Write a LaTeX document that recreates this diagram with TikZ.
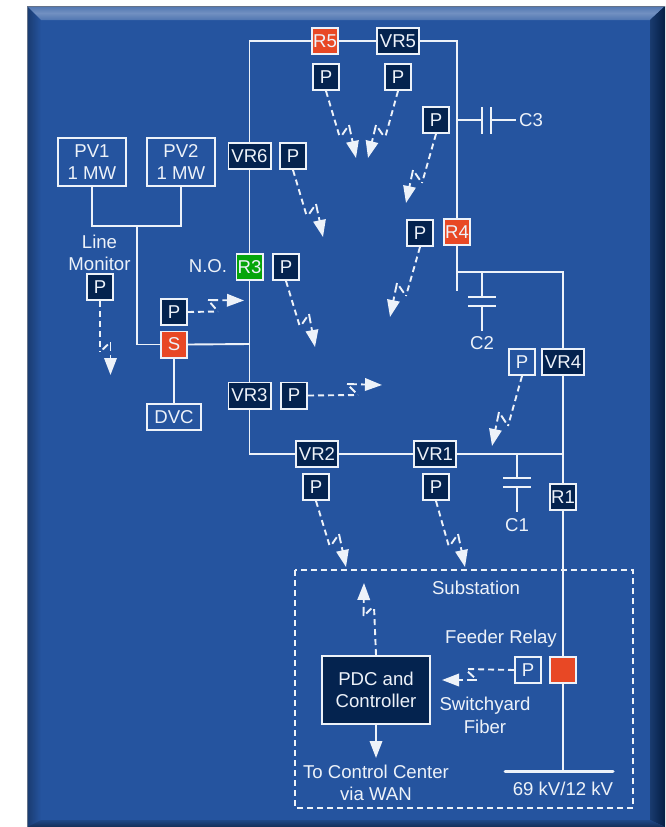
\documentclass[tikz,border=0pt]{standalone}
\usepackage{fontspec}
\setmainfont{Liberation Sans}
\usetikzlibrary{arrows.meta,calc}
\definecolor{panel}{HTML}{25549F}
\definecolor{navy}{HTML}{04234F}
\definecolor{relayred}{HTML}{E84825}
\definecolor{relaygreen}{HTML}{05A50A}
\definecolor{ink}{HTML}{EDF2F9}
\tikzset{
  lbl/.style={text=ink,inner sep=0pt,align=center,font=\fontsize{18.6}{22.5}\selectfont},
  cell/.style={draw=ink,line width=1.9pt,text=ink,inner sep=0pt,minimum height=26.1pt,font=\fontsize{18.6}{22.5}\selectfont,align=center},
  pbox/.style={cell,fill=navy,minimum width=26.1pt},
  popen/.style={cell,minimum width=26.1pt},
  vrbox/.style={cell,fill=navy,minimum width=42.1pt},
  redbox/.style={cell,fill=relayred,minimum width=26.1pt},
  pvbox/.style={cell,minimum width=68.1pt,minimum height=48.1pt},
  wire/.style={draw=ink,line width=1.9pt},
  fibdash/.style={draw=ink,line width=1.9pt,dash pattern=on 6pt off 4pt},
  headed/.style={draw=ink,line width=1.9pt,-{Triangle[length=17pt,width=12.5pt]}},
}
% start, end of the long run, top of the jog, tip
\newcommand{\fiblink}[4]{%
  \draw[fibdash] (#1) -- (#2);
  \draw[wire] ($(#2)!0.25!(#3)$) -- ($(#2)!0.75!(#3)$);
  \draw[wire] (#3) -- ($(#3)!0.28!(#4)$);
  \draw[headed] ($(#3)!0.4!(#4)$) -- (#4);
}
\begin{document}
\begin{tikzpicture}[x=1pt,y=-1pt]
\useasboundingbox (0,0) rectangle (665,827);
\fill[white] (0,0) rectangle (665,827);
% panel with bevel
\fill[panel] (27,6) rectangle (665,827);
\shade[left color=panel!70!black,right color=panel] (27,6) -- (41,20) -- (41,820) -- (27,827) -- cycle;
\shade[top color=panel!80!white,bottom color=panel!80!white,middle color=panel!65!white] (27,6) -- (665,6) -- (650,20) -- (41,20) -- cycle;
\shade[left color=panel!70!black,right color=navy!85!black] (650,20) -- (665,6) -- (665,827) -- (650,820) -- cycle;
\shade[top color=panel!85!black,bottom color=panel!55!black] (41,820) -- (650,820) -- (665,827) -- (27,827) -- cycle;
\draw[gray!70!panel,line width=1pt] (27,827) -- (27,6) -- (665,6);
% nodes
\node[redbox] (r5) at (325,41) {R5};
\node[vrbox] (vr5) at (398,41) {VR5};
\node[pbox] (p5a) at (326,77) {P};
\node[pbox] (p5b) at (398,77) {P};
\node[pbox] (pc3) at (436,120) {P};
\node[redbox] (r4) at (457,232) {R4};
\node[pbox] (pr4) at (420,233) {P};
\node[vrbox] (vr6) at (249.5,156) {VR6};
\node[pbox] (pvr6) at (293,156) {P};
\node[pvbox] (pv1) at (92,162) {PV1\\1 MW};
\node[pvbox] (pv2) at (181,162) {PV2\\1 MW};
\node[lbl] (lm) at (99.5,253) {Line\\Monitor};
\node[pbox] (plm) at (100,287) {P};
\node[redbox] (s) at (174,344.5) {S};
\node[pbox] (ps) at (174,312) {P};
\node[cell,fill=relaygreen,minimum width=26.1pt] (r3) at (249.5,267) {R3};
\node[pbox] (pr3) at (286,267) {P};
\node[lbl] (no) at (208,266) {N.O.};
\node[vrbox] (vr3) at (249.5,395.5) {VR3};
\node[pbox] (pvr3) at (294,395.5) {P};
\node[cell,minimum width=54.1pt] (dvc) at (174,417) {DVC};
\node[vrbox] (vr2) at (317,454) {VR2};
\node[vrbox] (vr1) at (435,454) {VR1};
\node[pbox] (pvr2) at (316,487) {P};
\node[pbox] (pvr1) at (436,487) {P};
\node[pbox] (r1) at (563,497) {R1};
\node[vrbox] (vr4) at (563,362) {VR4};
\node[popen] (pvr4) at (522,362) {P};
\node[popen] (pf) at (528,670) {P};
\node[redbox] (fr) at (563,670) {};
\node[cell,fill=navy,minimum width=108.1pt,minimum height=68.1pt] (pdc) at (376,690) {PDC and\\Controller};
\node[lbl] (c3) at (531,120) {C3};
\node[lbl] (c2) at (482,343) {C2};
\node[lbl] (c1) at (517,525) {C1};
\node[lbl] (sub) at (476,588) {Substation};
\node[lbl] (feed) at (501,639) {Feeder Relay};
\node[lbl] (sw) at (485,715.5) {Switchyard\\Fiber};
\node[lbl] (toc) at (376,783) {To Control Center\\via WAN};
\node[lbl] (kv) at (563,789) {69 kV/12 kV};
% substation outline
\draw[fibdash] (295,570) rectangle (633,808);
% junctions and free ends
\coordinate (jpv) at (137,226);
\coordinate (js) at (249.5,344);
\coordinate (jr4) at (457,272);
\coordinate (stub) at (457,291);
\coordinate (jc3) at (457,120);
\coordinate (c3a) at (482,120);
\coordinate (c3b) at (491,120);
\coordinate (c3e) at (516,120);
\coordinate (jc2) at (482,272);
\coordinate (c2a) at (482,297);
\coordinate (c2b) at (482,306);
\coordinate (c2e) at (482,331);
\coordinate (jc1) at (517,454);
\coordinate (c1a) at (517,478);
\coordinate (c1b) at (517,487);
\coordinate (c1e) at (517,512);
\coordinate (j1) at (563,454);
\coordinate (bus) at (563,771);
\coordinate (busl) at (505,771);
\coordinate (busr) at (613,771);
\coordinate (ctrl) at (376,758);
% wires
\draw[wire] (vr6.north) |- (r5.west);
\draw[wire] (r5) -- (vr5);
\draw[wire] (vr5.east) -| (r4.north);
\draw[wire] (vr6) -- (r3);
\draw[wire] (r3) -- (vr3);
\draw[wire] (vr3.south) |- (vr2.west);
\draw[wire] (vr2) -- (vr1);
\draw[wire] (vr1.east) -- (j1);
\draw[wire] (r4.south) -- (stub);
\draw[wire] (jr4) -| (vr4.north);
\draw[wire] (vr4.south) -- (r1.north);
\draw[wire] (r1.south) -- (fr.north);
\draw[wire] (fr.south) -- (bus);
\draw[draw=ink,line width=3pt,line cap=round] (busl) -- (busr);
\draw[wire] (pv1.south) |- (jpv) -| (pv2.south);
\draw[wire] (jpv) |- (s.west);
\draw[wire] (s.east) -- (js);
\draw[wire] (s.south) -- (dvc.north);
% capacitors
\draw[wire] (jc3) -- (c3a);
\draw[wire] (c3b) -- (c3e);
\draw[wire] ([yshift=-13.5pt]c3a) -- ([yshift=13.5pt]c3a);
\draw[wire] ([yshift=-13.5pt]c3b) -- ([yshift=13.5pt]c3b);
\draw[wire] (jc2) -- (c2a);
\draw[wire] (c2b) -- (c2e);
\draw[wire] ([xshift=-14pt]c2a) -- ([xshift=14pt]c2a);
\draw[wire] ([xshift=-14pt]c2b) -- ([xshift=14pt]c2b);
\draw[wire] (jc1) -- (c1a);
\draw[wire] (c1b) -- (c1e);
\draw[wire] ([xshift=-14pt]c1a) -- ([xshift=14pt]c1a);
\draw[wire] ([xshift=-14pt]c1b) -- ([xshift=14pt]c1b);
% fiber links
\fiblink{p5a.south}{340,138}{349,125}{356,158}
\fiblink{p5b.south}{385,138}{376,125}{368,158}
\fiblink{pc3.south}{422,183}{413,170}{406,203}
\fiblink{pvr6.south}{307,217}{316,204}{323,237}
\fiblink{plm.south}{100,352}{110.5,342}{110.5,375}
\fiblink{ps.east}{218,311.5}{208,300}{244,300.5}
\fiblink{pr3.south}{300,327}{309,314}{315,347}
\fiblink{pvr3.east}{358,395}{347,384}{382,385}
\fiblink{pr4.south}{406,296}{397,283}{390,317}
\fiblink{pvr4.south}{508,426}{499,412}{492,446}
\fiblink{pvr2.south}{330,547}{339,534}{346,567}
\fiblink{pvr1.south}{449,547}{458,534}{465,567}
\fiblink{pf.west}{465,669}{477,680}{442,680}
\fiblink{pdc.north}{374,606}{363.5,616}{364,583}
\draw[headed] (pdc.south) -- (ctrl);
\end{tikzpicture}
\end{document}
